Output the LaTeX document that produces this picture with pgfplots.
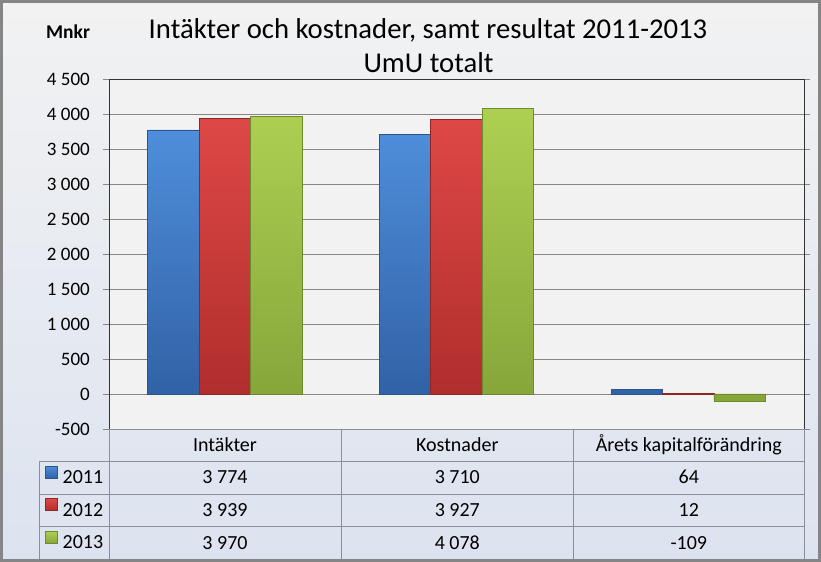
\documentclass[border=0pt]{standalone}
\usepackage{fontspec}
\setmainfont{Carlito}
\usepackage{pgfplots}
\usepackage{pgfplotstable}
\pgfplotsset{compat=1.18}

\definecolor{gridgray}{HTML}{868686}
\definecolor{tablegray}{HTML}{8C8E99}
\definecolor{bgtop}{HTML}{F2F2F2}
\definecolor{bgbot}{HTML}{DCE3F0}
\definecolor{plotbg}{HTML}{F2F2F2}
\definecolor{framegray}{HTML}{858585}
\definecolor{blueT}{HTML}{4F8EDB}
\definecolor{blueB}{HTML}{3162A6}
\definecolor{blueE}{HTML}{2A5590}
\definecolor{redT}{HTML}{DE4846}
\definecolor{redB}{HTML}{B02E2C}
\definecolor{redE}{HTML}{8E2624}
\definecolor{greenT}{HTML}{ADD052}
\definecolor{greenB}{HTML}{86A53A}
\definecolor{greenE}{HTML}{6E8A2C}

% categories: 0 Intäkter, 1 Kostnader, 2 Årets kapitalförändring
\pgfplotstableread{
x y2011 y2012 y2013
0 3774 3939 3970
1 3710 3927 4078
2 64 12 -109
}\datatable

\begin{document}
\begin{tikzpicture}
\useasboundingbox (0,0) rectangle (821bp,562bp);
% chart background
\shade[top color=bgtop, bottom color=bgbot] (0,0) rectangle (821bp,562bp);

\begin{axis}[
  at={(109bp,133bp)}, anchor=south west,
  scale only axis, width=695bp, height=350bp,
  xmin=-0.5, xmax=2.5, ymin=-500, ymax=4500,
  xtick=\empty,
  ytick={-500,0,...,4500},
  yticklabels={-500,0,500,1 000,1 500,2 000,2 500,3 000,3 500,4 000,4 500},
  yticklabel style={font=\fontsize{19bp}{22bp}\selectfont, anchor=east, inner sep=0pt, xshift=-13bp},
  tick align=outside, major tick length=6bp,
  ytick style={draw=gridgray, line width=0.75bp},
  ymajorgrids, grid style={gridgray, line width=0.75bp},
  axis line style={draw=black!80, line width=0.8bp},
  axis background/.style={fill=plotbg},
  ybar=0pt, bar width=0.222,
  legend image code/.code={\draw[#1, line width=0.5bp] (0bp,0bp) rectangle (12bp,12bp);},
  legend style={at={(-0.0921,-0.0929)}, anchor=north west, draw=none, fill=none,
    inner sep=0pt, row sep=0pt, column sep=5bp,
    nodes={inner sep=0pt, minimum height=32.6bp, font=\fontsize{20bp}{24bp}\selectfont}},
]
\addplot[draw=blueE, top color=blueT, bottom color=blueB, line width=0.6bp] table[x=x, y=y2011] {\datatable};
\addplot[draw=redE, top color=redT, bottom color=redB, line width=0.6bp] table[x=x, y=y2012] {\datatable};
\addplot[draw=greenE, top color=greenT, bottom color=greenB, line width=0.6bp] table[x=x, y=y2013] {\datatable};
\legend{2011,2012,2013}
\end{axis}

\begin{scope}[x=1bp, y=-1bp, shift={(0,562bp)}]
  % data table grid
  \draw[tablegray, line width=0.9bp]
    (109,429) -- (804,429)
    (39,461.5) -- (804,461.5)
    (39,494) -- (804,494)
    (39,526.7) -- (804,526.7)
    (39,559) -- (804,559)
    (39,461.5) -- (39,559)
    (109,429) -- (109,559)
    (341,429) -- (341,559)
    (573.5,429) -- (573.5,559)
    (804,429) -- (804,559);
  \begin{scope}[every node/.style={anchor=base, inner sep=0pt, font=\fontsize{20bp}{24bp}\selectfont}]
    \node at (225,452) {Intäkter};
    \node at (457.3,452) {Kostnader};
    \node at (688.8,452) {Årets kapitalförändring};
    \node at (225,484) {3 774};
    \node at (457.3,484) {3 710};
    \node at (688.8,484) {64};
    \node at (225,516.7) {3 939};
    \node at (457.3,516.7) {3 927};
    \node at (688.8,516.7) {12};
    \node at (225,549.4) {3 970};
    \node at (457.3,549.4) {4 078};
    \node at (688.8,549.4) {-109};
  \end{scope}
  % titles
  \node[anchor=base, inner sep=0pt, font=\fontsize{28.7bp}{34bp}\selectfont] at (428,39) {Intäkter och kostnader, samt resultat 2011-2013};
  \node[anchor=base, inner sep=0pt, font=\fontsize{28.7bp}{34bp}\selectfont] at (428.5,73) {UmU totalt};
  \node[anchor=base west, inner sep=0pt, font=\bfseries\fontsize{19.5bp}{23bp}\selectfont] at (46,39) {Mnkr};
  % outer frame
  \draw[framegray, line width=3bp] (1.5,1.5) rectangle (819.5,560.5);
\end{scope}
\end{tikzpicture}
\end{document}
